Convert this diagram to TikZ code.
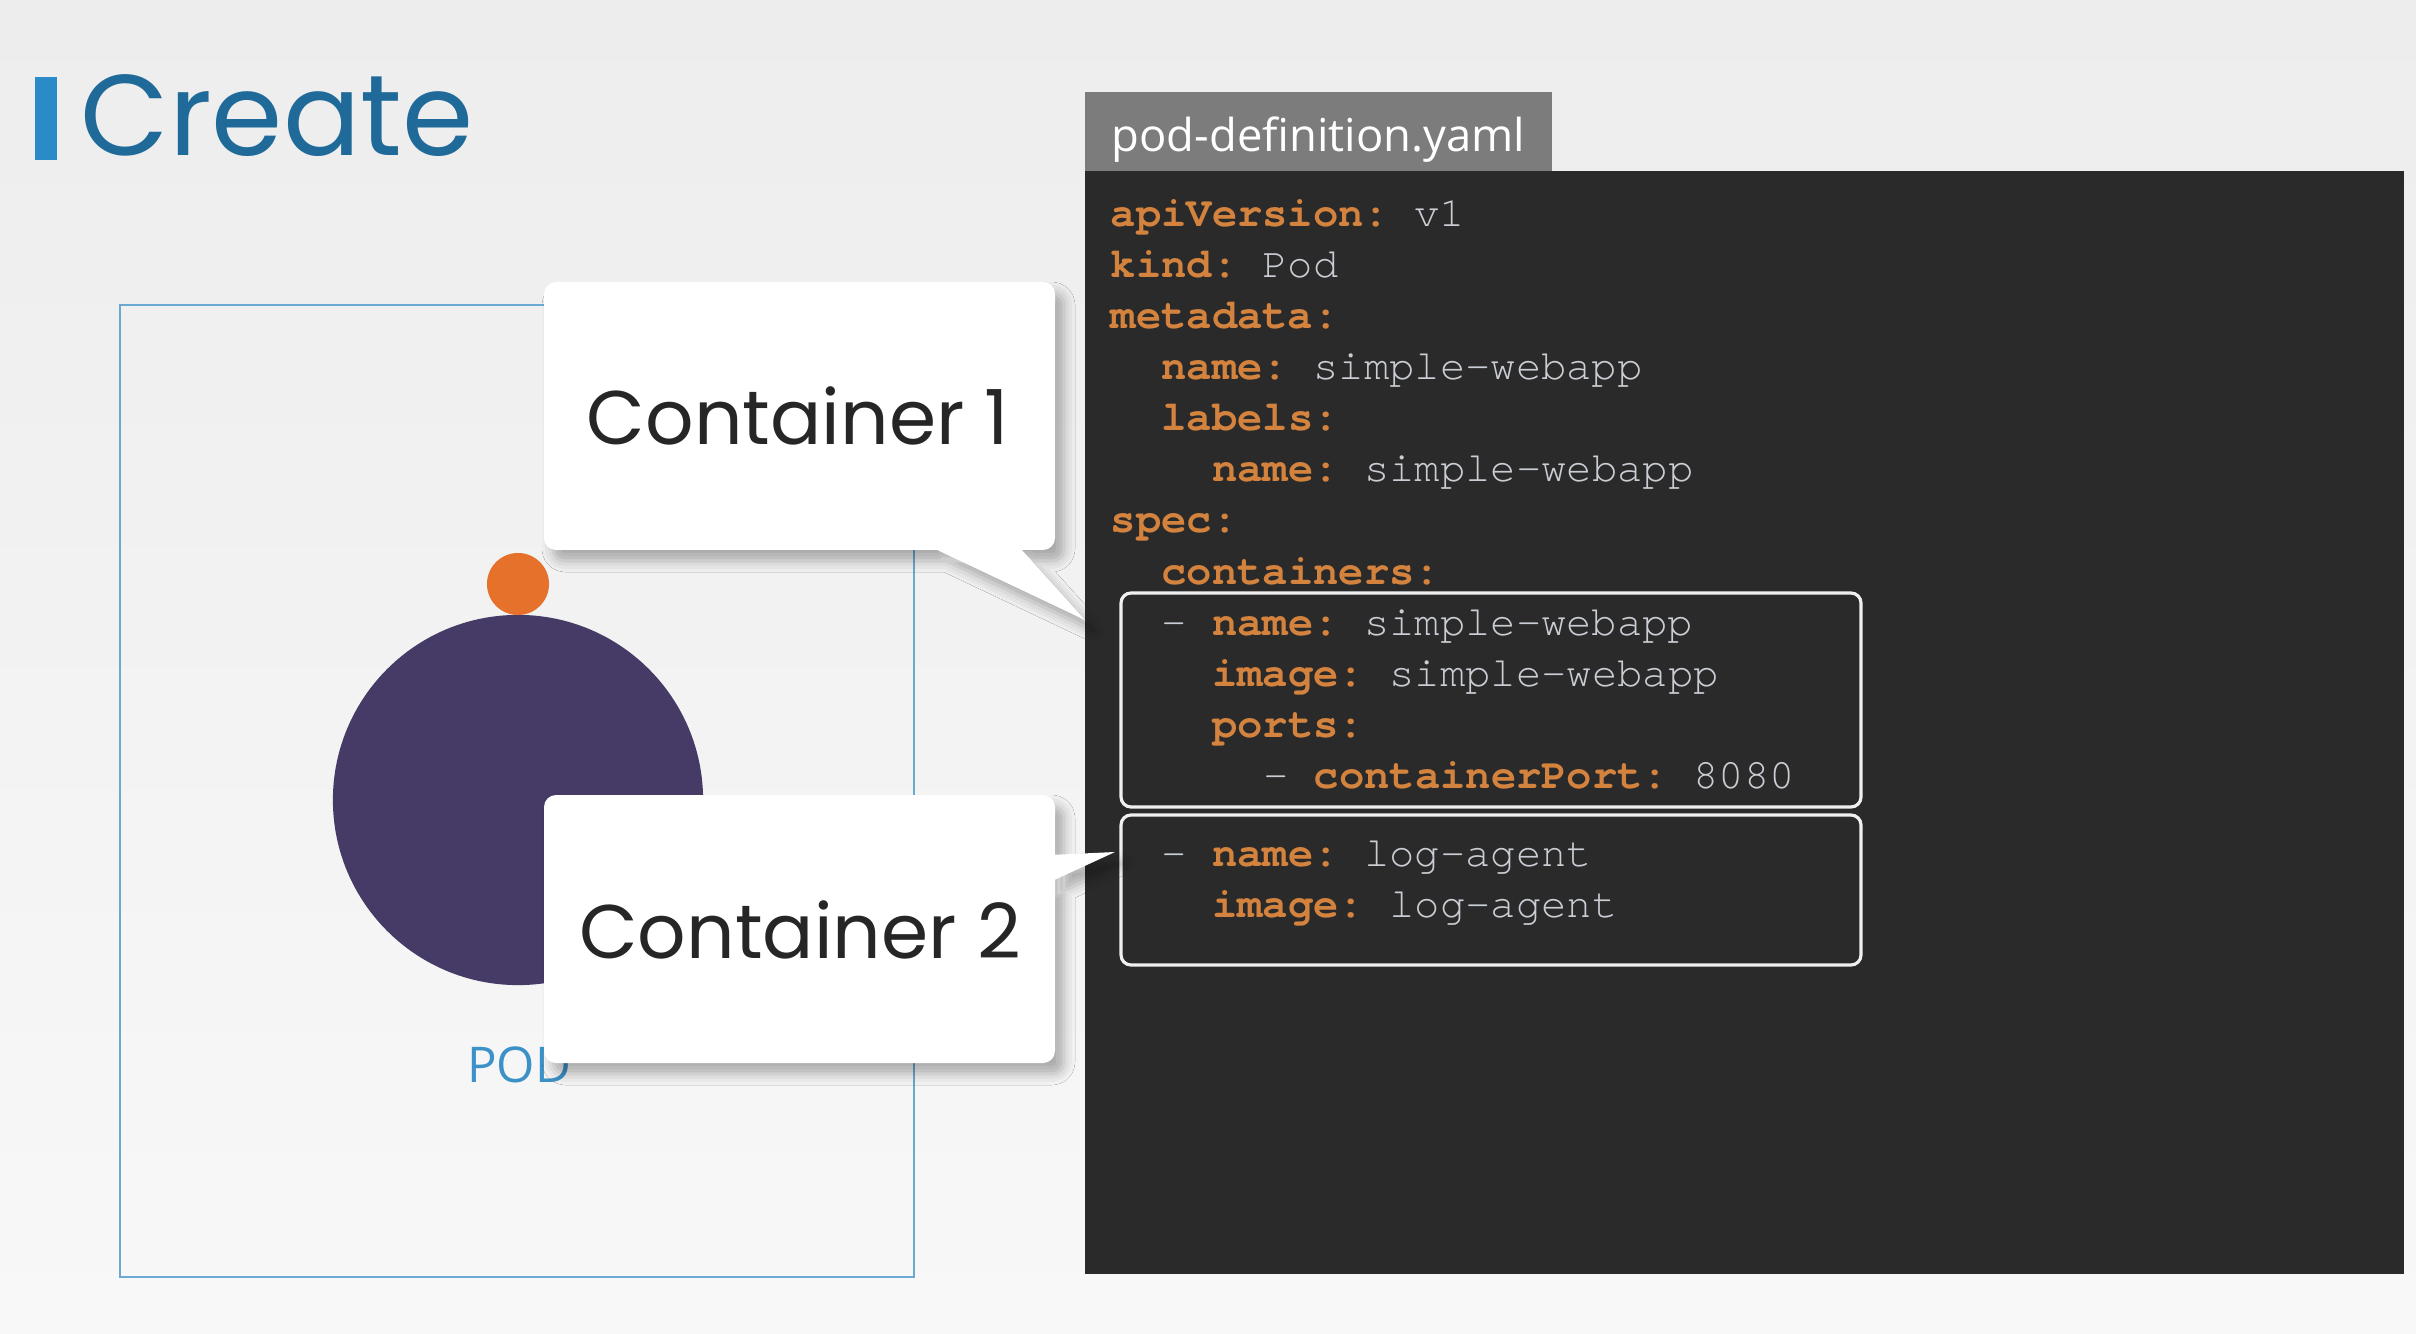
\documentclass[tikz,border=0pt]{standalone}
\usepackage{fontspec}
\setmainfont{Poppins}
\setmonofont{texgyrecursor}[Extension=.otf,UprightFont=*-regular,BoldFont=*-bold]
\newfontfamily\tabfont{Open Sans}
\usetikzlibrary{shadows.blur}

\definecolor{bgtop}{HTML}{EDEDED}
\definecolor{bgbot}{HTML}{F8F8F8}
\definecolor{titleblue}{HTML}{1F6A99}
\definecolor{titlebar}{HTML}{2B8BC9}
\definecolor{podline}{HTML}{6AA9D2}
\definecolor{podpurple}{HTML}{453B66}
\definecolor{podorange}{HTML}{E6712A}
\definecolor{podtext}{HTML}{3C92C8}
\definecolor{panel}{HTML}{2A2A2A}
\definecolor{tabgrey}{HTML}{7C7C7C}
\definecolor{yamlkey}{HTML}{D4833E}
\definecolor{yamlval}{HTML}{CACED4}
\definecolor{calltext}{HTML}{262626}

\newcommand{\yk}[1]{\textcolor{yamlkey}{\bfseries #1}}
\newcommand{\yv}[1]{\textcolor{yamlval}{#1}}

\begin{document}
\begin{tikzpicture}[x=0.01cm,y=-0.01cm,
    code/.style={anchor=base west,inner sep=0pt,font=\ttfamily\fontsize{12}{14}\selectfont},
    hilite/.style={draw=white!94!black,line width=0.9pt,rounded corners=1mm},
    bubble/.style={fill=white,blur shadow={shadow xshift=0.9mm,shadow yshift=-1.1mm,
      shadow blur radius=1.1mm,shadow opacity=30}},
    bubbletext/.style={anchor=base,inner sep=0pt,text=calltext,font=\fontsize{21.6}{26}\selectfont}]
  \useasboundingbox (0,0) rectangle (2416,1334);
  \shade[top color=bgtop,bottom color=bgbot] (0,0) rectangle (2416,1334);

  % title
  \fill[titlebar] (35,77) rectangle (57,160);
  \node[anchor=base west,inner sep=0pt,text=titleblue,font=\fontsize{32.6}{38}\selectfont] (title) at (80,156) {Create};

  % the pod
  \draw[podline,line width=0.7pt] (120,305) rectangle (914,1277);
  \fill[podpurple] (518,800) circle (1.85cm);
  \fill[podorange] (518,584) circle (0.31cm);
  \node[anchor=base,inner sep=0pt,text=podtext,font=\tabfont\fontsize{14}{16}\selectfont] (podlbl) at (519,1082) {POD};

  % yaml file
  \fill[tabgrey] (1085,92) rectangle (1552,171);
  \node[anchor=base west,inner sep=0pt,text=white,font=\tabfont\fontsize{12.9}{15}\selectfont] (fname) at (1111,152) {pod-definition.yaml};
  \fill[panel] (1085,171) rectangle (2404,1274);

  \node[code] (l1)  at (1110,227)   {\yk{apiVersion:} \yv{v1}};
  \node[code] (l2)  at (1110,278)   {\yk{kind:} \yv{Pod}};
  \node[code] (l3)  at (1110,329)   {\yk{metadata:}};
  \node[code] (l4)  at (1160.8,380) {\yk{name:} \yv{simple-webapp}};
  \node[code] (l5)  at (1160.8,431) {\yk{labels:}};
  \node[code] (l6)  at (1211.6,482) {\yk{name:} \yv{simple-webapp}};
  \node[code] (l7)  at (1110,533)   {\yk{spec:}};
  \node[code] (l8)  at (1160.8,584) {\yk{containers:}};
  \node[code] (l9)  at (1160.8,635) {\yv{-} \yk{name:} \yv{simple-webapp}};
  \node[code] (l10) at (1211.6,686) {\yk{image:} \yv{simple-webapp}};
  \node[code] (l11) at (1211.6,737) {\yk{ports:}};
  \node[code] (l12) at (1262.4,788) {\yv{-} \yk{containerPort:} \yv{8080}};
  \node[code] (l13) at (1160.8,866) {\yv{-} \yk{name:} \yv{log-agent}};
  \node[code] (l14) at (1211.6,917) {\yk{image:} \yv{log-agent}};

  % container blocks
  \draw[hilite] (1121,593) rectangle (1861,807);
  \draw[hilite] (1121,815) rectangle (1861,965);

  % callouts
  \fill[bubble] (1020,548) -- (1085,620) -- (933,548) -- cycle
    [rounded corners=1.2mm] (544,550) -- (544,282) -- (1055,282) -- (1055,550) -- cycle;
  \node[bubbletext] (c1) at (798,445) {Container 1};

  \fill[bubble] (1050,855) -- (1115,852) -- (1050,882) -- cycle
    [rounded corners=1.2mm] (544,1063) -- (544,795) -- (1055,795) -- (1055,1063) -- cycle;
  \node[bubbletext] (c2) at (800,958) {Container 2};
\end{tikzpicture}
\end{document}
